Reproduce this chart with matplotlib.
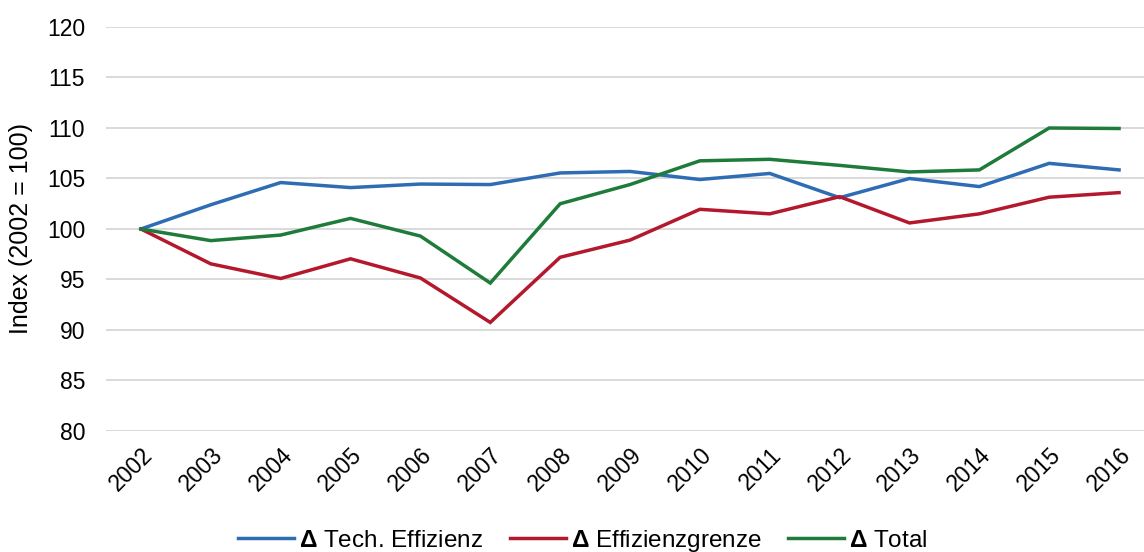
import matplotlib.pyplot as plt
import numpy as np

plt.rcParams['font.family'] = ['Liberation Sans', 'DejaVu Sans']
plt.rcParams['mathtext.fontset'] = 'custom'
plt.rcParams['mathtext.rm'] = 'Liberation Sans'
plt.rcParams['mathtext.bf'] = 'Liberation Sans:bold'

# Jahre und Indexwerte (2002 = 100)
jahre = ["2002", "2003", "2004", "2005", "2006", "2007", "2008", "2009",
         "2010", "2011", "2012", "2013", "2014", "2015", "2016"]
tech_effizienz = [100.0, 102.4, 104.6, 104.1, 104.45, 104.4, 105.55, 105.7,
                  104.9, 105.5, 103.1, 105.0, 104.2, 106.5, 105.85]
effizienzgrenze = [100.0, 96.55, 95.1, 97.05, 95.15, 90.75, 97.2, 98.9,
                   101.95, 101.5, 103.2, 100.6, 101.5, 103.15, 103.6]
total = [100.0, 98.85, 99.4, 101.05, 99.3, 94.65, 102.5, 104.4,
         106.75, 106.9, 106.3, 105.65, 105.85, 110.0, 109.95]

serien = [
    (r"$\mathbf{Δ}$ Tech. Effizienz", tech_effizienz, "#2E6DB4"),
    (r"$\mathbf{Δ}$ Effizienzgrenze", effizienzgrenze, "#B4182D"),
    (r"$\mathbf{Δ}$ Total", total, "#1E7B3A"),
]

fig = plt.figure(figsize=(11.44, 5.52), dpi=100)
ax = fig.add_axes([106 / 1144, 121 / 552, 1048 / 1144, 404 / 552])

x = np.arange(len(jahre))
for name, werte, farbe in serien:
    ax.plot(x, werte, color=farbe, linewidth=2.5, label=name,
            solid_joinstyle="miter")

ax.set_xlim(-0.5, len(jahre) - 0.5)
ax.set_ylim(80, 120)
ax.set_yticks(np.arange(80, 121, 5))
ax.set_xticks(x)
ax.set_xticklabels(jahre, rotation=45, ha="right", va="top",
                   rotation_mode="anchor")
ax.tick_params(axis="both", length=0, labelsize=16.5, colors="black")
ax.tick_params(axis="x", pad=9)
ax.tick_params(axis="y", pad=15)
ax.grid(axis="y", color="#D9D9D9", linewidth=1.4)
ax.set_axisbelow(True)
for s in ax.spines.values():
    s.set_visible(False)

ax.set_ylabel("Index (2002 = 100)", fontsize=18)
ax.yaxis.set_label_coords(-73 / 1048, 0.5)

fig.legend(loc="center", bbox_to_anchor=(583 / 1144, 1 - 541 / 552),
           ncol=3, frameon=False, fontsize=17.5, handlelength=2.3,
           columnspacing=1.1, handletextpad=0.2)

fig.savefig("out.png", dpi=100)
